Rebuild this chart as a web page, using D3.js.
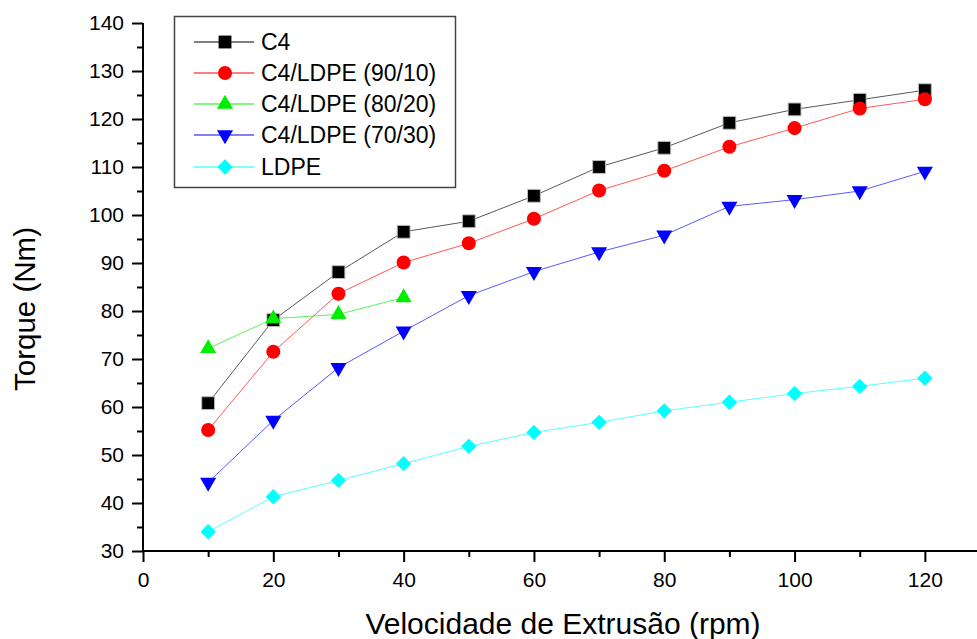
<!DOCTYPE html>
<html>
<head>
<meta charset="utf-8">
<script src="https://cdn.jsdelivr.net/npm/d3@7"></script>
<style>
  html, body { margin: 0; padding: 0; background: #fff; }
  svg { display: block; font-family: "Liberation Sans", Arial, sans-serif; }
</style>
</head>
<body>
<svg id="chart" width="977" height="639"></svg>
<script>
// ---- data ----
const speeds = [10, 20, 30, 40, 50, 60, 70, 80, 90, 100, 110, 120];
const c4 = [60.8, 78.1, 88.1, 96.5, 98.7, 104.0, 110.0, 114.0, 119.2, 122.0, 124.0, 126.0];
const c4ldpe9010 = [55.2, 71.5, 83.6, 90.1, 94.1, 99.2, 105.1, 109.2, 114.2, 118.1, 122.2, 124.1];
const c4ldpe8020 = [72.2, 78.4, 79.3, 82.8];
const c4ldpe7030 = [44.3, 57.2, 68.2, 75.8, 83.2, 88.2, 92.3, 95.8, 101.8, 103.2, 105.0, 109.1];
const ldpe = [34.0, 41.3, 44.7, 48.2, 51.8, 54.7, 56.8, 59.2, 61.0, 62.8, 64.3, 66.0];
const seriesNames = ["C4", "C4/LDPE (90/10)", "C4/LDPE (80/20)", "C4/LDPE (70/30)", "LDPE"];
const xTicks = [0, 20, 40, 60, 80, 100, 120];
const yTicks = [30, 40, 50, 60, 70, 80, 90, 100, 110, 120, 130, 140];
const xTitle = "Velocidade de Extrusão (rpm)";
const yTitle = "Torque (Nm)";

const series = [
  { name: seriesNames[0], values: c4, color: "#000000", symbol: d3.symbolSquare, size: 165, rot: 0 },
  { name: seriesNames[1], values: c4ldpe9010, color: "#ff0000", symbol: d3.symbolCircle, size: 155, rot: 0 },
  { name: seriesNames[2], values: c4ldpe8020, color: "#00ee00", symbol: d3.symbolTriangle, size: 112, rot: 0 },
  { name: seriesNames[3], values: c4ldpe7030, color: "#0000ff", symbol: d3.symbolTriangle, size: 112, rot: 180 },
  { name: seriesNames[4], values: ldpe, color: "#00ffff", symbol: d3.symbolSquare, size: 118, rot: 45 }
];

const svg = d3.select("#chart");
const x = d3.scaleLinear().domain([0, 128]).range([143, 977]);
const y = d3.scaleLinear().domain([30, 140]).range([551, 23]);

// ---- axes ----
const xAxis = svg.append("g").attr("transform", "translate(0,551)")
  .call(d3.axisBottom(x).tickValues(xTicks).tickSize(11).tickPadding(10).tickFormat(d3.format("d")));
const xMinor = svg.append("g").attr("transform", "translate(0,551)")
  .call(d3.axisBottom(x).tickValues(d3.range(10, 128, 20)).tickSize(6).tickFormat(""));
const yAxis = svg.append("g").attr("transform", "translate(143,0)")
  .call(d3.axisLeft(y).tickValues(yTicks).tickSize(11).tickPadding(8).tickFormat(d3.format("d")));
const yMinor = svg.append("g").attr("transform", "translate(143,0)")
  .call(d3.axisLeft(y).tickValues(d3.range(35, 140, 10)).tickSize(6).tickFormat(""));

[xAxis, xMinor, yAxis, yMinor].forEach(g => {
  g.attr("font-size", null).attr("font-family", null);
  g.select(".domain").attr("stroke", "#000").attr("stroke-width", 2);
  g.selectAll(".tick line").attr("stroke", "#000").attr("stroke-width", 2);
  g.selectAll(".tick text").attr("fill", "#000").attr("font-size", 21)
    .attr("font-family", "'Liberation Sans', Arial, sans-serif");
});
xMinor.select(".domain").remove();
yMinor.select(".domain").remove();
xAxis.select(".domain").attr("d", `M${x(0)},0H977`);
yAxis.select(".domain").attr("d", `M0,${y(30)}V${y(140)}`);

// ---- titles ----
svg.append("text").attr("x", 563).attr("y", 634).attr("text-anchor", "middle")
  .attr("font-size", 30).attr("fill", "#000").text(xTitle);
svg.append("text").attr("transform", "translate(35,309) rotate(-90)").attr("text-anchor", "middle")
  .attr("font-size", 29.5).attr("fill", "#000").text(yTitle);

// ---- lines and markers ----
const line = d3.line().x((d, i) => x(speeds[i])).y(d => y(d));
series.forEach(s => {
  svg.append("path").datum(s.values).attr("d", line)
    .attr("fill", "none").attr("stroke", s.color).attr("stroke-width", 1).attr("stroke-opacity", 0.65);
});
series.forEach(s => {
  const sym = d3.symbol().type(s.symbol).size(s.size);
  svg.append("g").selectAll("path").data(s.values).join("path")
    .attr("d", sym)
    .attr("transform", (d, i) => `translate(${x(speeds[i])},${y(d)}) rotate(${s.rot})`)
    .attr("fill", s.color)
    .attr("stroke", s.color === "#000000" ? "#bbb" : "none")
    .attr("stroke-width", 1);
});

// ---- legend ----
const lg = svg.append("g");
lg.append("rect").attr("x", 174.5).attr("y", 16.5).attr("width", 281).attr("height", 171)
  .attr("fill", "#fff").attr("stroke", "#444").attr("stroke-width", 1.5);
const legendY = [42, 73, 104, 135, 167];
series.forEach((s, k) => {
  const yy = legendY[k];
  lg.append("line").attr("x1", 194).attr("x2", 254).attr("y1", yy).attr("y2", yy)
    .attr("stroke", s.color).attr("stroke-width", 1.2);
  lg.append("path").attr("d", d3.symbol().type(s.symbol).size(s.size)())
    .attr("transform", `translate(225,${yy}) rotate(${s.rot})`).attr("fill", s.color);
  lg.append("text").attr("x", 261).attr("y", yy + 8).attr("font-size", 23)
    .attr("fill", "#000").text(s.name);
});
</script>
</body>
</html>
